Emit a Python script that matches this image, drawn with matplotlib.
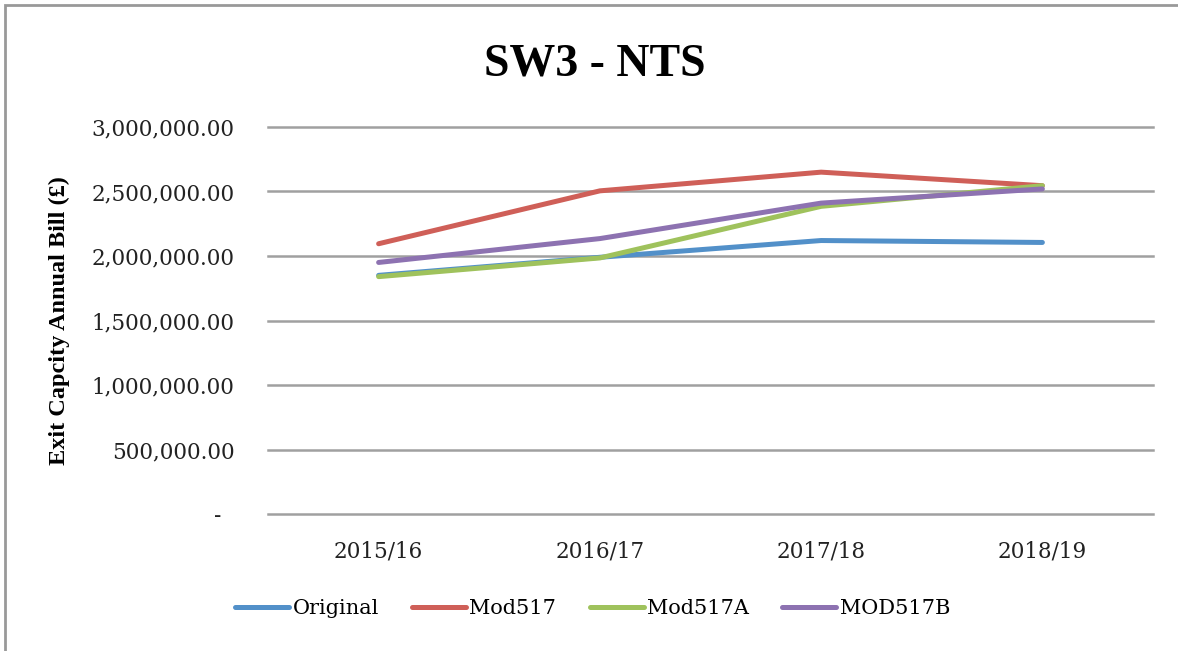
import matplotlib
matplotlib.use('Agg')
import matplotlib.pyplot as plt
from matplotlib.ticker import FuncFormatter
from matplotlib.patches import Rectangle

years = ['2015/16', '2016/17', '2017/18', '2018/19']
original = [1850000, 1990000, 2120000, 2105000]
mod517 = [2095000, 2505000, 2650000, 2545000]
mod517a = [1840000, 1985000, 2385000, 2545000]
mod517b = [1950000, 2135000, 2410000, 2520000]

series = [('Original', original, '#5290c9'),
          ('Mod517', mod517, '#cf5f58'),
          ('Mod517A', mod517a, '#9fc25c'),
          ('MOD517B', mod517b, '#8d72b1')]

fig = plt.figure(figsize=(11.78, 6.51), dpi=100)
ax = fig.add_axes([268/1178, 1 - 514/651, 885/1178, 387/651])

x = range(len(years))
for name, vals, col in series:
    ax.plot(x, vals, color=col, lw=3.6, label=name, solid_capstyle='round', zorder=3)

ax.set_xlim(-0.5, 3.5)
ax.set_ylim(0, 3000000)
ax.set_yticks(range(0, 3000001, 500000))
ax.yaxis.set_major_formatter(FuncFormatter(lambda v, p: '-  ' if v == 0 else '{:,.2f}'.format(v)))
ax.set_xticks(list(x))
ax.set_xticklabels(years)
ax.grid(axis='y', color='#a0a0a0', lw=1.8, zorder=1)
for gl in ax.get_ygridlines():
    gl.set_clip_on(False)
for s in ax.spines.values():
    s.set_visible(False)
ax.tick_params(axis='both', length=0, labelsize=15.5, colors='#222222')
ax.tick_params(axis='y', pad=24)
ax.tick_params(axis='x', pad=19)
for lab in ax.get_xticklabels() + ax.get_yticklabels():
    lab.set_fontfamily('DejaVu Serif')

ax.set_ylabel('Exit Capcity Annual Bill (£)', fontfamily='Liberation Serif',
              fontweight='bold', fontsize=17.5)
ax.yaxis.set_label_coords(-198/885, 0.5)

fig.text(0.505, 1 - 65/651, 'SW3 - NTS', ha='center', va='center',
         fontfamily='Liberation Serif', fontweight='bold', fontsize=33)

leg = fig.legend(loc='center', bbox_to_anchor=(0.503, 1 - 609/651), ncol=4,
                 frameon=False, handlelength=2.6, handletextpad=0.15,
                 columnspacing=1.6, prop={'family': 'DejaVu Serif', 'size': 15})

fig.patches.append(Rectangle((5/1178, -0.1), 1.2, 1 - 5/651 + 0.1,
                             transform=fig.transFigure, fill=False,
                             edgecolor='#999999', lw=2))

fig.savefig('out.png', dpi=100)
